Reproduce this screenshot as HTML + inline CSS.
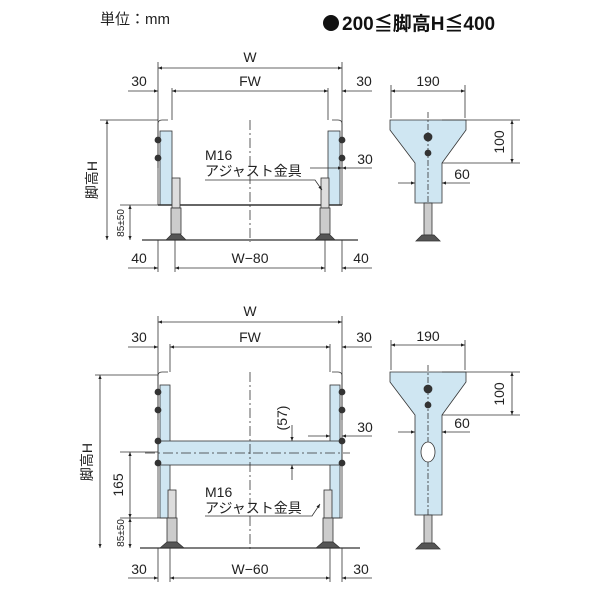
<!DOCTYPE html>
<html><head><meta charset="utf-8"><style>body{margin:0;background:#fff}svg{display:block}text{font-family:"Liberation Sans","Noto Sans CJK JP",sans-serif;fill:#222}</style></head><body>
<svg width="600" height="600" viewBox="0 0 600 600" xmlns="http://www.w3.org/2000/svg">
<defs><marker id="a" viewBox="0 0 10 10" refX="10" refY="5" markerWidth="7" markerHeight="5" orient="auto-start-reverse"><path d="M0,1L10,5L0,9z" fill="#222"/></marker></defs>
<text x="100" y="24" font-size="15">単位：mm</text>
<circle cx="331" cy="23" r="8" fill="#111"/>
<text x="342" y="30" font-size="19" font-weight="bold" style="fill:#111">200≦脚高H≦400</text>
<g stroke="#333" stroke-width="0.8" fill="none">
<line x1="158" y1="62" x2="158" y2="168"/><line x1="342" y1="62" x2="342" y2="168"/>
<line x1="158" y1="68" x2="342" y2="68" marker-start="url(#a)" marker-end="url(#a)"/>
<line x1="172" y1="88" x2="172" y2="120"/><line x1="328" y1="88" x2="328" y2="120"/>
<line x1="172" y1="91" x2="328" y2="91" marker-start="url(#a)" marker-end="url(#a)"/>
<line x1="128" y1="91" x2="158" y2="91" marker-end="url(#a)"/><line x1="372" y1="91" x2="342" y2="91" marker-end="url(#a)"/>
<line x1="250" y1="120" x2="250" y2="242" stroke-dasharray="10,3,2,3"/>
<rect x="160" y="131" width="12" height="74" fill="#cfe6f2"/><rect x="328" y="131" width="12" height="74" fill="#cfe6f2"/>
<path d="M168,120 H162 Q158,120 158,124 V205"/><path d="M332,120 H338 Q342,120 342,124 V205"/>
<line x1="158" y1="205" x2="342" y2="205" stroke-width="1.5"/>
<rect x="172" y="178" width="8" height="30" fill="#ddd"/><rect x="321" y="178" width="8" height="30" fill="#ddd"/>
<rect x="171" y="208" width="10" height="26" fill="#ccc"/><rect x="320" y="208" width="10" height="26" fill="#ccc"/>
<path d="M166,240 L172,234 H180 L186,240Z" fill="#555"/><path d="M315,240 L321,234 H329 L335,240Z" fill="#555"/>
<line x1="142" y1="240" x2="358" y2="240" stroke-width="1.3"/>
<line x1="100" y1="120" x2="158" y2="120"/><line x1="107" y1="120" x2="107" y2="240" marker-start="url(#a)" marker-end="url(#a)"/>
<line x1="120" y1="205" x2="158" y2="205"/><line x1="130" y1="205" x2="130" y2="240" marker-start="url(#a)" marker-end="url(#a)"/>
<line x1="175" y1="240" x2="175" y2="272"/><line x1="325" y1="240" x2="325" y2="272"/><line x1="158" y1="240" x2="158" y2="272"/><line x1="342" y1="240" x2="342" y2="272"/>
<line x1="175" y1="268" x2="325" y2="268" marker-start="url(#a)" marker-end="url(#a)"/>
<line x1="128" y1="268" x2="158" y2="268" marker-end="url(#a)"/><line x1="372" y1="268" x2="342" y2="268" marker-end="url(#a)"/>
<line x1="310" y1="168" x2="342" y2="168" marker-end="url(#a)"/><line x1="372" y1="168" x2="342" y2="168" marker-end="url(#a)"/>
<path d="M205,180 H315 L322,190" marker-end="url(#a)"/>
<g fill="#333"><circle cx="158" cy="140" r="3"/><circle cx="158" cy="158" r="3"/><circle cx="342" cy="140" r="3"/><circle cx="342" cy="158" r="3"/></g>
<line x1="391" y1="85" x2="391" y2="118"/><line x1="465" y1="85" x2="465" y2="118"/>
<line x1="391" y1="91" x2="465" y2="91" marker-start="url(#a)" marker-end="url(#a)"/>
<path d="M390,120 H466 V130 L442,163 V203 H415 V163 L390,130Z" fill="#cfe6f2"/>
<line x1="428" y1="112" x2="428" y2="205" stroke-dasharray="6,2,2,2"/>
<rect x="424" y="203" width="8" height="32" fill="#ccc"/><path d="M416,241 L422,235 H434 L440,241Z" fill="#555"/>
<line x1="442" y1="120" x2="520" y2="120"/><line x1="442" y1="163" x2="520" y2="163"/>
<line x1="512" y1="120" x2="512" y2="163" marker-start="url(#a)" marker-end="url(#a)"/>
<line x1="398" y1="183" x2="415" y2="183" marker-end="url(#a)"/><line x1="470" y1="183" x2="442" y2="183" marker-end="url(#a)"/>
<circle cx="428" cy="137" r="4" fill="#333"/><circle cx="428" cy="153" r="3" fill="#333"/>
<line x1="158" y1="316" x2="158" y2="420"/><line x1="342" y1="316" x2="342" y2="420"/>
<line x1="158" y1="322" x2="342" y2="322" marker-start="url(#a)" marker-end="url(#a)"/>
<line x1="170" y1="344" x2="170" y2="372"/><line x1="330" y1="344" x2="330" y2="372"/>
<line x1="170" y1="347" x2="330" y2="347" marker-start="url(#a)" marker-end="url(#a)"/>
<line x1="128" y1="347" x2="158" y2="347" marker-end="url(#a)"/><line x1="372" y1="347" x2="342" y2="347" marker-end="url(#a)"/>
<rect x="160" y="385" width="10" height="133" fill="#cfe6f2"/><rect x="330" y="385" width="10" height="133" fill="#cfe6f2"/>
<rect x="158" y="441" width="184" height="24" fill="#cfe6f2"/>
<line x1="250" y1="372" x2="250" y2="552" stroke-dasharray="10,3,2,3"/>
<line x1="145" y1="453" x2="350" y2="453" stroke-dasharray="10,3,2,3"/>
<path d="M168,372 H162 Q158,372 158,376 V518 H170"/><path d="M332,372 H338 Q342,372 342,376 V518 H330"/>
<rect x="168" y="490" width="8" height="28" fill="#ddd"/><rect x="324" y="490" width="8" height="28" fill="#ddd"/>
<rect x="167" y="518" width="10" height="24" fill="#ccc"/><rect x="323" y="518" width="10" height="24" fill="#ccc"/>
<path d="M160,548 L167,542 H177 L184,548Z" fill="#555"/><path d="M316,548 L323,542 H333 L340,548Z" fill="#555"/>
<line x1="140" y1="548" x2="360" y2="548" stroke-width="1.3"/>
<line x1="95" y1="375" x2="158" y2="375"/><line x1="100" y1="375" x2="100" y2="548" marker-start="url(#a)" marker-end="url(#a)"/>
<line x1="120" y1="452" x2="158" y2="452"/><line x1="120" y1="518" x2="158" y2="518"/>
<line x1="130" y1="452" x2="130" y2="518" marker-start="url(#a)" marker-end="url(#a)"/>
<line x1="130" y1="518" x2="130" y2="548" marker-start="url(#a)" marker-end="url(#a)"/>
<line x1="170" y1="548" x2="170" y2="582"/><line x1="330" y1="548" x2="330" y2="582"/><line x1="158" y1="548" x2="158" y2="582"/><line x1="342" y1="548" x2="342" y2="582"/>
<line x1="170" y1="578" x2="330" y2="578" marker-start="url(#a)" marker-end="url(#a)"/>
<line x1="128" y1="578" x2="158" y2="578" marker-end="url(#a)"/><line x1="372" y1="578" x2="342" y2="578" marker-end="url(#a)"/>
<line x1="292" y1="425" x2="292" y2="441" marker-end="url(#a)"/><line x1="292" y1="480" x2="292" y2="465" marker-end="url(#a)"/>
<line x1="308" y1="436" x2="330" y2="436" marker-end="url(#a)"/><line x1="372" y1="436" x2="342" y2="436" marker-end="url(#a)"/>
<path d="M205,516 H312 L320,504" marker-end="url(#a)"/>
<g fill="#333"><circle cx="158" cy="392" r="3"/><circle cx="158" cy="410" r="3"/><circle cx="342" cy="392" r="3"/><circle cx="342" cy="410" r="3"/><circle cx="158" cy="441" r="3"/><circle cx="158" cy="463" r="3"/><circle cx="342" cy="441" r="3"/><circle cx="342" cy="463" r="3"/></g>
<line x1="391" y1="340" x2="391" y2="370"/><line x1="465" y1="340" x2="465" y2="370"/>
<line x1="391" y1="345" x2="465" y2="345" marker-start="url(#a)" marker-end="url(#a)"/>
<path d="M390,372 H466 V382 L442,415 V515 H415 V415 L390,382Z" fill="#cfe6f2"/>
<line x1="428" y1="365" x2="428" y2="515" stroke-dasharray="6,2,2,2"/>
<ellipse cx="428" cy="452" rx="7" ry="10" fill="#fff"/>
<rect x="424" y="515" width="8" height="28" fill="#ccc"/><path d="M416,549 L422,543 H434 L440,549Z" fill="#555"/>
<line x1="442" y1="372" x2="520" y2="372"/><line x1="442" y1="415" x2="520" y2="415"/>
<line x1="512" y1="372" x2="512" y2="415" marker-start="url(#a)" marker-end="url(#a)"/>
<line x1="398" y1="432" x2="415" y2="432" marker-end="url(#a)"/><line x1="470" y1="432" x2="442" y2="432" marker-end="url(#a)"/>
<circle cx="428" cy="389" r="4" fill="#333"/><circle cx="428" cy="405" r="3" fill="#333"/>
</g>
<g font-size="14">
<text x="250" y="62" text-anchor="middle">W</text>
<text x="250" y="86" text-anchor="middle">FW</text>
<text x="139" y="86" text-anchor="middle">30</text><text x="364" y="86" text-anchor="middle">30</text>
<text x="365" y="164" text-anchor="middle">30</text>
<text x="205" y="160">M16</text><text x="205" y="176">アジャスト金具</text>
<text x="139" y="263" text-anchor="middle">40</text><text x="250" y="263" text-anchor="middle">W−80</text><text x="361" y="263" text-anchor="middle">40</text>
<text transform="translate(97,180) rotate(-90)" text-anchor="middle">脚高H</text>
<text transform="translate(124,223) rotate(-90)" text-anchor="middle" font-size="10">85±50</text>
<text x="428" y="86" text-anchor="middle">190</text>
<text transform="translate(504,142) rotate(-90)" text-anchor="middle">100</text>
<text x="462" y="179" text-anchor="middle">60</text>
<text x="250" y="316" text-anchor="middle">W</text>
<text x="250" y="342" text-anchor="middle">FW</text>
<text x="139" y="342" text-anchor="middle">30</text><text x="364" y="342" text-anchor="middle">30</text>
<text x="365" y="432" text-anchor="middle">30</text>
<text transform="translate(287,418) rotate(-90)" text-anchor="middle">(57)</text>
<text x="205" y="497">M16</text><text x="205" y="513">アジャスト金具</text>
<text transform="translate(123,485) rotate(-90)" text-anchor="middle">165</text>
<text transform="translate(124,533) rotate(-90)" text-anchor="middle" font-size="10">85±50</text>
<text transform="translate(92,462) rotate(-90)" text-anchor="middle">脚高H</text>
<text x="139" y="574" text-anchor="middle">30</text><text x="250" y="574" text-anchor="middle">W−60</text><text x="361" y="574" text-anchor="middle">30</text>
<text x="428" y="341" text-anchor="middle">190</text>
<text transform="translate(504,394) rotate(-90)" text-anchor="middle">100</text>
<text x="462" y="428" text-anchor="middle">60</text>
</g>
</svg>
</body></html>
